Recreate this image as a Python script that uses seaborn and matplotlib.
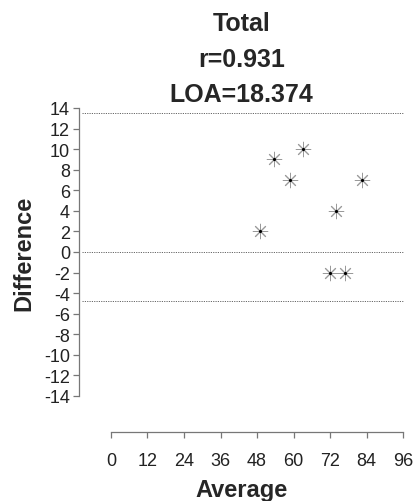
import matplotlib
matplotlib.use("Agg")
import matplotlib.pyplot as plt
import numpy as np
import pandas as pd
import seaborn as sns

# Bland-Altman data
average = [49, 53.5, 59, 63, 74, 82.5, 72, 77]
difference = [2, 9, 7, 10, 4, 7, -2, -2]
upper_loa = 13.56
lower_loa = -4.81
zero_line = 0
title_lines = ["Total", "r=0.931", "LOA=18.374"]
x_ticks = list(range(0, 97, 12))
y_ticks = list(range(-14, 15, 2))

sns.set_theme(style="white")
plt.rcParams["font.family"] = ["Liberation Sans Narrow", "Liberation Sans", "DejaVu Sans"]
plt.rcParams["axes.unicode_minus"] = False

df = pd.DataFrame({"Average": average, "Difference": difference})

fig = plt.figure(figsize=(4.14, 5.02), dpi=100)
ax = fig.add_axes([79 / 414, 1 - 397 / 502, (404 - 79) / 414, (397 - 109) / 502])

sns.scatterplot(data=df, x="Average", y="Difference", marker=(8, 2, 0), color="#9a9a9a",
                s=110, linewidth=0.7, ax=ax, zorder=3)
ax.scatter(average, difference, s=1.5, color="black", zorder=4)

for yv in (upper_loa, zero_line, lower_loa):
    ax.axhline(yv, color="#666666", linestyle=(0, (1.2, 1.2)), linewidth=0.7, xmin=0.01)

ax.set_xlim(-10.5, 96.3)
ax.set_ylim(-14, 14)
ax.set_xticks(x_ticks)
ax.set_yticks(y_ticks)

for side in ("top", "right"):
    ax.spines[side].set_visible(False)
ax.spines["left"].set_bounds(-14, 14)
ax.spines["bottom"].set_bounds(0, 96)
ax.spines["bottom"].set_position(("outward", 26))
for side in ("left", "bottom"):
    ax.spines[side].set_color("#777777")
    ax.spines[side].set_linewidth(0.9)

ax.tick_params(axis="both", which="major", direction="out", length=4.5, width=0.9,
               color="#777777", labelsize=13, labelcolor="#222222")
ax.tick_params(axis="y", left=True, pad=2)
ax.tick_params(axis="x", bottom=True, pad=10)

ax.set_xlabel("Average", fontsize=17, fontweight="bold", family="Liberation Sans", labelpad=6)
ax.set_ylabel("Difference", fontsize=17, fontweight="bold", family="Liberation Sans", labelpad=6)
ax.set_title("\n".join(title_lines), fontsize=18, fontweight="bold", family="Liberation Sans",
             linespacing=1.6, pad=5)

plt.savefig("out.png", dpi=100)
plt.close()
